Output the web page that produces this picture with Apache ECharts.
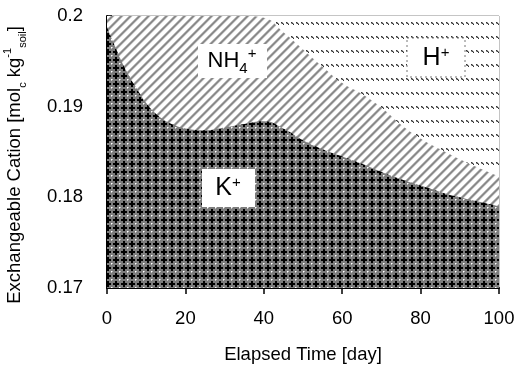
<!DOCTYPE html>
<html>
<head>
<meta charset="UTF-8">
<title>Exchangeable Cation</title>
<style>
  html, body { margin: 0; padding: 0; background: #fff; }
  #chart { width: 523px; height: 369px; }
</style>
</head>
<body>
<div id="chart"></div>
<script src="https://cdn.jsdelivr.net/npm/echarts@6/dist/echarts.min.js"></script>
<script>
// elapsed days
var days = [0, 2, 5, 8, 10, 12, 14, 17, 20, 25, 30, 35, 40, 45, 50, 55, 60, 65, 70, 75, 80, 85, 90, 95, 100];
// K+ (bottom layer)
var kPlus = [0.1988, 0.1967, 0.1939, 0.1917, 0.1904, 0.1894, 0.1887, 0.1880, 0.1876, 0.1874, 0.1877, 0.1881, 0.1884,
  0.1876, 0.1863, 0.1853, 0.1845, 0.1837, 0.1828, 0.1820, 0.1813, 0.1806, 0.1800, 0.1795, 0.1790];
// top of NH4+ layer (K+ + NH4+)
var kPlusNH4 = [0.2, 0.2, 0.2, 0.2, 0.2, 0.2, 0.2, 0.2, 0.2, 0.2, 0.2, 0.2, 0.1998,
  0.1982, 0.1963, 0.1944, 0.1926, 0.1914, 0.1899, 0.1880, 0.1865, 0.1853, 0.1842, 0.1832, 0.1823];
// top of H+ layer (total)
var total = days.map(function () { return 0.2; });
var xTicks = [0, 100, 20];
var yTicks = [0.17, 0.2, 0.01];

// fill patterns
function makeTile(w, h, draw) {
  var c = document.createElement('canvas');
  c.width = w; c.height = h;
  draw(c.getContext('2d'));
  return c;
}
var crossTile = makeTile(8, 8, function (ctx) {
  ctx.fillStyle = '#7c7c7c'; ctx.fillRect(0, 0, 8, 8);
  ctx.fillStyle = '#000'; ctx.fillRect(3, 1, 2, 6); ctx.fillRect(1, 3, 6, 2);
  ctx.fillStyle = '#fff'; ctx.fillRect(7, 7, 1, 1);
  ctx.fillStyle = '#c4c4c4'; ctx.fillRect(0, 7, 1, 1); ctx.fillRect(7, 0, 1, 1);
});
var stripeTile = makeTile(9, 9, function (ctx) {
  var shades = ['#c6c6c6', '#8e8e8e', '#868686', '#b4b4b4', '#f0f0f0', '#fff', '#fff', '#fff', '#fff'];
  for (var x = 0; x < 9; x++) {
    for (var y = 0; y < 9; y++) {
      ctx.fillStyle = shades[(x + y) % 9];
      ctx.fillRect(x, y, 1, 1);
    }
  }
});
var dashTile = makeTile(5, 14, function (ctx) {
  ctx.fillStyle = '#fff'; ctx.fillRect(0, 0, 5, 14);
  ctx.fillStyle = '#333';
  ctx.fillRect(1, 8, 1, 1); ctx.fillRect(2, 9, 1, 1); ctx.fillRect(3, 10, 1, 1);
  ctx.fillStyle = '#9a9a9a';
  ctx.fillRect(2, 8, 1, 1); ctx.fillRect(3, 9, 1, 1); ctx.fillRect(1, 9, 1, 1);
});

function pairs(vals) {
  return days.map(function (d, i) { return [d, vals[i]]; });
}

var chart = echarts.init(document.getElementById('chart'));

// each layer fills down to the axis; later layers are drawn on top
function layer(name, vals, tile, z) {
  return {
    name: name,
    type: 'line',
    z: z,
    smooth: 0.5,
    showSymbol: false,
    lineStyle: { width: 0 },
    areaStyle: { color: { image: tile, repeat: 'repeat' }, opacity: 1, origin: 'start' },
    data: pairs(vals)
  };
}

var txt = '"Liberation Sans", Arial, sans-serif';

var option = {
  animation: false,
  grid: {
    left: 107, right: 24, top: 16, bottom: 81,
    outerBoundsMode: 'none',
    containLabel: false,
    show: true, borderColor: '#8a8a8a', borderWidth: 1
  },
  xAxis: {
    type: 'value',
    min: xTicks[0], max: xTicks[1], interval: xTicks[2],
    name: 'Elapsed Time [day]',
    nameLocation: 'middle',
    nameGap: 57,
    nameTextStyle: { fontFamily: txt, fontSize: 18.5, color: '#000' },
    axisLine: { onZero: false, lineStyle: { color: '#000', width: 2 } },
    axisTick: { inside: false, length: 6, lineStyle: { color: '#000', width: 1.5 } },
    axisLabel: { fontFamily: txt, fontSize: 18.5, color: '#000', margin: 21 },
    splitLine: { show: false }
  },
  yAxis: {
    type: 'value',
    min: yTicks[0], max: yTicks[1], interval: yTicks[2],
    axisLine: { show: true, onZero: false, lineStyle: { color: '#000', width: 2 } },
    axisTick: { show: true, inside: true, length: 5, lineStyle: { color: '#000', width: 1.5 } },
    axisLabel: {
      fontFamily: txt, fontSize: 18.5, color: '#000', margin: 24,
      formatter: function (v) { return String(+v.toFixed(2)); }
    },
    splitLine: { show: false }
  },
  series: [
    layer('H+', total, dashTile, 2),
    layer('NH4+', kPlusNH4, stripeTile, 3),
    layer('K+', kPlus, crossTile, 4)
  ],
  graphic: [
    // y axis title
    {
      type: 'text', x: 15, y: 165, rotation: Math.PI / 2, z: 101,
      style: {
        text: 'Exchangeable Cation [mol{sub|c} kg{sup|-1}{sub|soil}]',
        fill: '#000', font: '18.5px ' + txt, lineHeight: 26,
        align: 'center', verticalAlign: 'middle',
        rich: {
          sub: { fontSize: 11, fontFamily: txt, fill: '#000', verticalAlign: 'bottom', lineHeight: 14 },
          sup: { fontSize: 11, fontFamily: txt, fill: '#000', verticalAlign: 'top', lineHeight: 14 }
        }
      }
    },
    { type: 'rect', shape: { x: 198, y: 44, width: 69, height: 34 }, style: { fill: '#fff' }, z: 100 },
    {
      type: 'text', x: 232, y: 61, z: 101,
      style: {
        text: 'NH{sub|4}{sup|+}', fill: '#000', font: '22px ' + txt, lineHeight: 30,
        align: 'center', verticalAlign: 'middle',
        rich: {
          sub: { fontSize: 15, fontFamily: txt, fill: '#000', verticalAlign: 'bottom', lineHeight: 15 },
          sup: { fontSize: 15, fontFamily: txt, fill: '#000', verticalAlign: 'top', lineHeight: 15 }
        }
      }
    },
    {
      type: 'rect', shape: { x: 407, y: 38, width: 58, height: 39 }, z: 100,
      style: { fill: '#fff', stroke: '#777', lineWidth: 1, lineDash: [2, 3] }
    },
    {
      type: 'text', x: 436, y: 58, z: 101,
      style: {
        text: 'H{sup|+}', fill: '#000', font: '25px ' + txt,
        align: 'center', verticalAlign: 'middle',
        rich: { sup: { fontSize: 15, fontFamily: txt, fill: '#000', verticalAlign: 'top', lineHeight: 16 } }
      }
    },
    { type: 'rect', shape: { x: 202, y: 169, width: 53, height: 38 }, style: { fill: '#fff' }, z: 100 },
    {
      type: 'text', x: 228, y: 188, z: 101,
      style: {
        text: 'K{sup|+}', fill: '#000', font: '25px ' + txt,
        align: 'center', verticalAlign: 'middle',
        rich: { sup: { fontSize: 15, fontFamily: txt, fill: '#000', verticalAlign: 'top', lineHeight: 16 } }
      }
    }
  ]
};

chart.setOption(option);
</script>
</body>
</html>
